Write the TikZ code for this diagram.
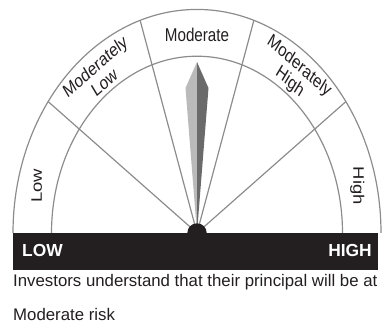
\documentclass[tikz,border=0pt]{standalone}
\usepackage{fontspec}
\setmainfont{Liberation Sans}
\usepackage{tikz,graphicx}
\definecolor{rimgray}{HTML}{8C8C8C}
\definecolor{inkdark}{HTML}{231F20}
\definecolor{needlelight}{HTML}{BABABA}
\definecolor{needledark}{HTML}{6A6A6A}
\tikzset{
  rim/.style={line width=1.2pt,rimgray},
  bandlabel/.style={font=\fontsize{15.2}{16}\selectfont,text=inkdark,align=center,inner sep=0pt},
  barlabel/.style={font=\fontsize{17.4}{18}\selectfont\bfseries,text=white,inner sep=0pt},
  notetext/.style={font=\fontsize{16.8}{18}\selectfont,text=inkdark,inner sep=0pt,anchor=base west}
}

\begin{document}
\begin{tikzpicture}[x=1pt,y=1pt]
  \useasboundingbox (0,0) rectangle (383,324);
  \begin{scope}[shift={(197,91)},yscale=1.215,transform shape]
    \coordinate (hub) at (0,0);
    \draw[rim] (184,0) arc (0:180:184);
    \draw[rim] (145.5,0) arc (0:180:145.5);
    \draw[rim] (hub)--(36:184);
    \draw[rim] (hub)--(72:184);
    \draw[rim] (hub)--(108:184);
    \draw[rim] (hub)--(144:184);
    \node[bandlabel,rotate=90] (lowband) at (166.4:165) {Low};
    \node[bandlabel,rotate=36] (modlowband) at (126.7:163) {Moderately\\Low};
    \node[bandlabel] (modband) at (90:163) {Moderate};
    \node[bandlabel,rotate=-36] (modhighband) at (53.3:163) {Moderately\\High};
    \node[bandlabel,rotate=-90] (highband) at (13.6:165) {High};
    \fill[needlelight] (hub)--(-11.5,119.3)--(0,140.7)--cycle;
    \fill[needledark] (hub)--(11.5,119.3)--(0,140.7)--cycle;
  \end{scope}
  \fill[inkdark] (197,91) circle (9.7);
  \fill[inkdark] (13,54) rectangle (378,91);
  \node[barlabel,anchor=base west] (lowend) at (22,67) {LOW};
  \node[barlabel,anchor=base east] (highend) at (372,67) {HIGH};
  \node[notetext] (noteone) at (13,37) {Investors understand that their principal will be at};
  \node[notetext] (notetwo) at (13,3) {Moderate risk};
\end{tikzpicture}
\end{document}
